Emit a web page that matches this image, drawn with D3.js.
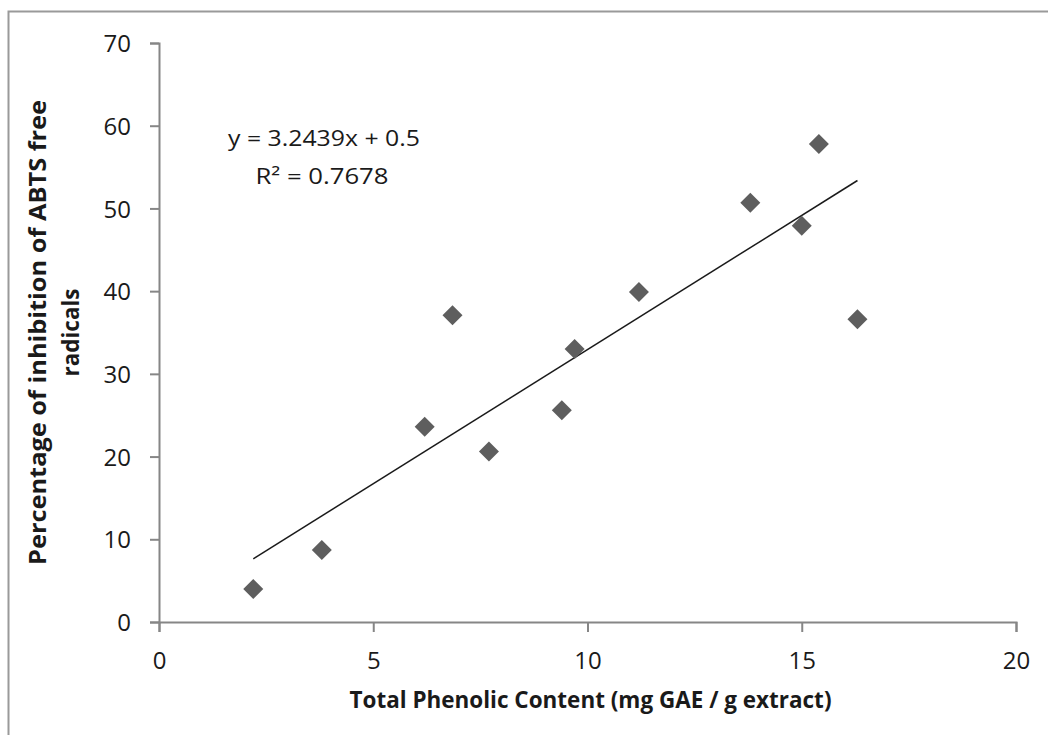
<!DOCTYPE html>
<html>
<head>
<meta charset="utf-8">
<script src="https://cdn.jsdelivr.net/npm/d3@7"></script>
<style>
  body { margin: 0; background: #fff; }
  text { font-family: "Open Sans", "Noto Sans", sans-serif; fill: #1a1a1a; }
</style>
</head>
<body>
<div id="chart"></div>
<script>
var width = 1048;
var height = 735;

// values
var phenolic = [2.2, 3.8, 6.2, 6.85, 7.7, 9.4, 9.7, 11.2, 13.8, 15.0, 15.4, 16.3];
var inhibition = [4.0, 8.7, 23.6, 37.1, 20.6, 25.6, 33.0, 39.9, 50.7, 47.9, 57.8, 36.6];
var xTicks = [0, 5, 10, 15, 20];
var yTicks = [0, 10, 20, 30, 40, 50, 60, 70];
var slope = 3.2439;
var intercept = 0.5;
var equationLines = ["y = 3.2439x + 0.5", "R\u00b2 = 0.7678"];
var xTitle = "Total Phenolic Content (mg GAE / g extract)";
var yTitle = ["Percentage of inhibition of ABTS free", "radicals"];

var plot = { left: 159, right: 1016, top: 43, bottom: 622 };

var x = d3.scaleLinear().domain([0, 20]).range([plot.left, plot.right]);
var y = d3.scaleLinear().domain([0, 70]).range([plot.bottom, plot.top]);

var svg = d3.select("#chart")
  .append("svg")
  .attr("width", width)
  .attr("height", height);

// outer chart border (only top and left are in the frame)
svg.append("rect")
  .attr("x", 8.5)
  .attr("y", 11.5)
  .attr("width", 1100)
  .attr("height", 800)
  .attr("fill", "none")
  .attr("stroke", "#9a9a9a")
  .attr("stroke-width", 2);

var xAxis = svg.append("g")
  .attr("transform", "translate(0," + plot.bottom + ")")
  .call(d3.axisBottom(x).tickValues(xTicks).tickSize(10).tickPadding(14));

var yAxis = svg.append("g")
  .attr("transform", "translate(" + plot.left + ",0)")
  .call(d3.axisLeft(y).tickValues(yTicks).tickSize(9).tickPadding(19));

[xAxis, yAxis].forEach(function (g) {
  g.select(".domain").attr("stroke", "#868686").attr("stroke-width", 2);
  g.selectAll(".tick line").attr("stroke", "#868686").attr("stroke-width", 2);
  g.selectAll(".tick text")
    .style("font-family", "'Open Sans', sans-serif")
    .style("font-size", "24px")
    .attr("fill", "#1a1a1a");
});
yAxis.selectAll(".tick text").attr("dy", "0.36em");
xAxis.selectAll(".tick text").attr("dy", "0.71em").attr("y", 30);

// trendline over the data range
var xr = d3.extent(phenolic);
svg.append("line")
  .attr("x1", x(xr[0]))
  .attr("y1", y(slope * xr[0] + intercept))
  .attr("x2", x(xr[1]))
  .attr("y2", y(slope * xr[1] + intercept))
  .attr("stroke", "#1a1a1a")
  .attr("stroke-width", 1.5);

// diamond markers
svg.selectAll("path.pt")
  .data(d3.zip(phenolic, inhibition))
  .enter()
  .append("path")
  .attr("class", "pt")
  .attr("d", "M0,-10L10,0L0,10L-10,0Z")
  .attr("transform", function (d) {
    return "translate(" + x(d[0]) + "," + y(d[1]) + ")";
  })
  .attr("fill", "#5e5e5e");

// equation label
svg.selectAll("text.eq")
  .data(equationLines)
  .enter()
  .append("text")
  .attr("class", "eq")
  .attr("x", function (d, i) { return i === 0 ? 324 : 322; })
  .attr("y", function (d, i) { return 146 + i * 38; })
  .attr("text-anchor", "middle")
  .style("font-size", "21px")
  .attr("textLength", function (d, i) { return i === 0 ? 192 : 133; })
  .attr("lengthAdjust", "spacingAndGlyphs")
  .text(function (d) { return d; });

// axis titles
svg.append("text")
  .attr("x", (plot.left + plot.right) / 2 + 3)
  .attr("y", 708)
  .attr("text-anchor", "middle")
  .style("font-size", "23px")
  .style("font-weight", "bold")
  .attr("textLength", 482)
  .attr("lengthAdjust", "spacingAndGlyphs")
  .text(xTitle);

svg.selectAll("text.ytitle")
  .data(yTitle)
  .enter()
  .append("text")
  .attr("class", "ytitle")
  .attr("transform", function (d, i) {
    return "translate(" + (46 + i * 33) + "," + ((plot.top + plot.bottom) / 2) + ") rotate(-90)";
  })
  .attr("text-anchor", "middle")
  .style("font-size", "23px")
  .style("font-weight", "bold")
  .attr("textLength", function (d, i) { return i === 0 ? 465 : 88; })
  .attr("lengthAdjust", "spacingAndGlyphs")
  .text(function (d) { return d; });
</script>
</body>
</html>
